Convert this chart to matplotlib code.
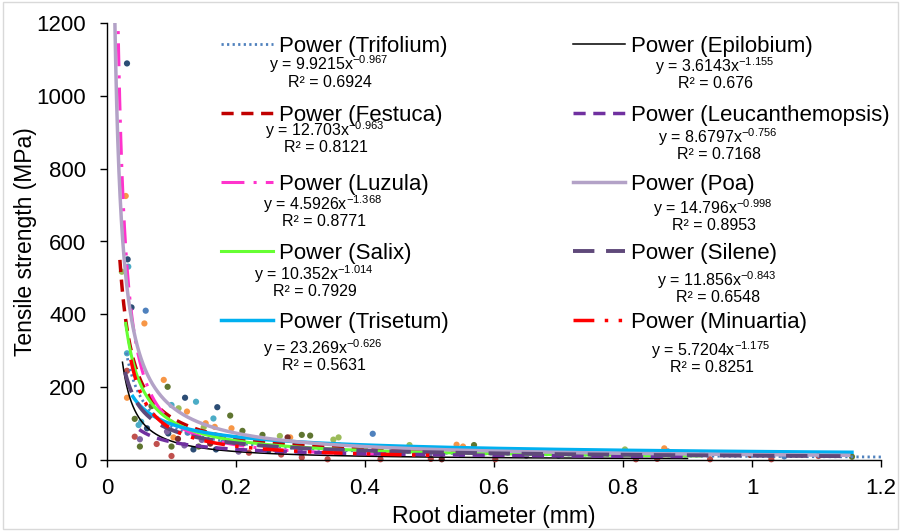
import numpy as np
import matplotlib
matplotlib.use('Agg')
import matplotlib.pyplot as plt
from matplotlib.patches import Rectangle
from matplotlib.ticker import FuncFormatter

plt.rcParams['font.family'] = ['Liberation Sans', 'DejaVu Sans']
plt.rcParams['mathtext.fontset'] = 'custom'
plt.rcParams['mathtext.rm'] = 'Liberation Sans'
plt.rcParams['mathtext.it'] = 'Liberation Sans'

# power trendlines  y = a * x^b
species = ['Trifolium', 'Festuca', 'Luzula', 'Salix', 'Trisetum',
           'Epilobium', 'Leucanthemopsis', 'Poa', 'Silene', 'Minuartia']
coef_a = [9.9215, 12.703, 4.5926, 10.352, 23.269,
          3.6143, 8.6797, 14.796, 11.856, 5.7204]
coef_b = [-0.967, -0.963, -1.368, -1.014, -0.626,
          -1.155, -0.756, -0.998, -0.843, -1.175]
r2 = ['0.6924', '0.8121', '0.8771', '0.7929', '0.5631',
      '0.676', '0.7168', '0.8953', '0.6548', '0.8251']
x_min = [0.030, 0.020, 0.016, 0.029, 0.040, 0.024, 0.050, 0.012, 0.028, 0.037]
x_max = [1.200, 0.600, 0.450, 0.920, 1.155, 0.900, 0.900, 1.150, 1.150, 0.500]

# measured roots (diameter mm, strength MPa), grouped by marker colour
pts_blue_x = [0.060, 0.412, 0.923, 0.125, 0.180, 0.260, 0.700, 1.050, 0.550]
pts_blue_y = [410, 72, 18, 75, 48, 30, 12, 10, 14]
pts_orange_x = [0.029, 0.058, 0.031, 0.088, 0.103, 0.124, 0.153, 0.167, 0.193,
                0.284, 0.542, 0.552, 0.864, 0.240, 0.360]
pts_orange_y = [725, 375, 171, 220, 62, 133, 101, 91, 87, 62, 42, 37, 32, 58, 40]
pts_aqua_x = [0.033, 0.031, 0.100, 0.138, 0.165, 0.049, 0.053, 0.200, 0.300, 0.450]
pts_aqua_y = [531, 293, 151, 160, 114, 96, 105, 60, 35, 25]
pts_red_x = [0.031, 0.043, 0.077, 0.100, 0.302, 0.342, 0.424, 0.502, 0.602,
             0.820, 0.853, 0.935, 1.030, 1.103, 0.220, 0.270]
pts_red_y = [245, 64, 44, 11, 7, 2, 2, 3, 2, 2, 3, 2, 2, 11, 20, 15]
pts_olive_x = [0.043, 0.051, 0.094, 0.069, 0.100, 0.142, 0.191, 0.241, 0.302,
               0.315, 0.569, 1.155, 0.210]
pts_olive_y = [113, 37, 201, 148, 37, 37, 122, 69, 69, 67, 41, 9, 80]
pts_lgreen_x = [0.023, 0.111, 0.268, 0.359, 0.351, 0.469, 0.803, 0.150, 0.400]
pts_lgreen_y = [517, 142, 66, 62, 56, 41, 29, 90, 30]
pts_navy_x = [0.031, 0.032, 0.038, 0.121, 0.171, 0.062, 0.095, 0.134, 0.169,
              0.870, 0.200, 0.250]
pts_navy_y = [1089, 551, 419, 171, 145, 87, 73, 29, 29, 23, 50, 25]
pts_purple_x = [0.051, 0.093, 0.147, 0.204, 0.120, 0.300, 0.500, 0.650]
pts_purple_y = [57, 78, 55, 23, 40, 20, 15, 12]
pts_dred_x = [0.519, 0.997, 0.280, 0.110, 0.160]
pts_dred_y = [2, 14, 62, 58, 45]

pts_x = [pts_blue_x, pts_orange_x, pts_aqua_x, pts_red_x, pts_olive_x,
         pts_lgreen_x, pts_navy_x, pts_purple_x, pts_dred_x]
pts_y = [pts_blue_y, pts_orange_y, pts_aqua_y, pts_red_y, pts_olive_y,
         pts_lgreen_y, pts_navy_y, pts_purple_y, pts_dred_y]
pts_col = ['#4F81BD', '#F79646', '#4BACC6', '#C0504D', '#5F7530',
           '#9BBB59', '#2C4D75', '#8064A2', '#772C2A']

line_col = ['#4F81BD', '#C00000', '#FF33CC', '#66FF33', '#00B0F0',
            '#000000', '#7030A0', '#B3A2C7', '#5F497A', '#FF0000']
line_w = [2.0, 2.5, 2.2, 2.2, 2.5, 1.1, 2.5, 2.5, 2.8, 2.5]
line_ls = [(0, (0.8, 1.2)), (0, (3.5, 2.2)), (0, (7.5, 3, 1, 3)), '-', '-',
           '-', (0, (3.5, 2.2)), '-', (0, (5.5, 3)), (0, (6, 3, 1, 3, 1, 3))]

# equation label centres in pixels (x, y from top)
eq_px = [(329, 64), (325, 130), (323, 204), (314, 274), (323, 348),
         (715, 66), (718, 137), (713, 208), (717, 280), (711, 350)]

W, H = 901, 531
fig = plt.figure(figsize=(W / 100, H / 100), dpi=100)
ax = fig.add_axes([107 / W, 1 - 460 / H, (881 - 107) / W, (460 - 23) / H])

for xs, ys, c in zip(pts_x, pts_y, pts_col):
    ax.scatter(xs, ys, s=20, color=c, edgecolors='none', zorder=2, clip_on=False)

handles = []
for i in range(len(species)):
    xx = np.geomspace(x_min[i], x_max[i], 400)
    yy = coef_a[i] * xx ** coef_b[i]
    ln, = ax.plot(xx, yy, color=line_col[i], lw=line_w[i], ls=line_ls[i],
                  zorder=3, label='Power (%s)' % species[i])
    handles.append(ln)

ax.set_xlim(0, 1.2)
ax.set_ylim(0, 1200)
ax.set_xticks(np.arange(0, 1.21, 0.2))
ax.set_yticks(np.arange(0, 1201, 200))
ax.xaxis.set_major_formatter(FuncFormatter(lambda v, p: '%g' % round(v, 2)))
for s in ['top', 'right']:
    ax.spines[s].set_visible(False)
for s in ['left', 'bottom']:
    ax.spines[s].set_linewidth(1.0)
ax.tick_params(direction='out', length=5, width=1, labelsize=16)
ax.tick_params(axis='y', pad=10)
ax.tick_params(axis='x', pad=8)
ax.set_xlabel('Root diameter (mm)', fontsize=16.5, labelpad=4)
ax.set_ylabel('Tensile strength (MPa)', fontsize=16.5, labelpad=0)

leg = ax.legend(handles=handles, ncol=2, frameon=False, fontsize=16,
                loc='upper left', bbox_to_anchor=(221 / W, 1 - 36 / H),
                bbox_transform=fig.transFigure, borderpad=0, borderaxespad=0,
                handlelength=2.34, handletextpad=0.27, labelspacing=2.16,
                columnspacing=5.6)

for i in range(len(species)):
    px, py = eq_px[i]
    fig.text(px / W, 1 - py / H, r'y = %gx$^{%g}$' % (coef_a[i], coef_b[i]),
             ha='center', va='center', fontsize=11.5)
    fig.text((px + 1) / W, 1 - (py + 18) / H, 'R² = %s' % r2[i],
             ha='center', va='center', fontsize=11.5)

fig.patches.append(Rectangle((0.003, 0.004), 0.994, 0.992, transform=fig.transFigure,
                             fill=False, edgecolor='#D9D9D9', lw=1))

fig.savefig('out.png', dpi=100)
